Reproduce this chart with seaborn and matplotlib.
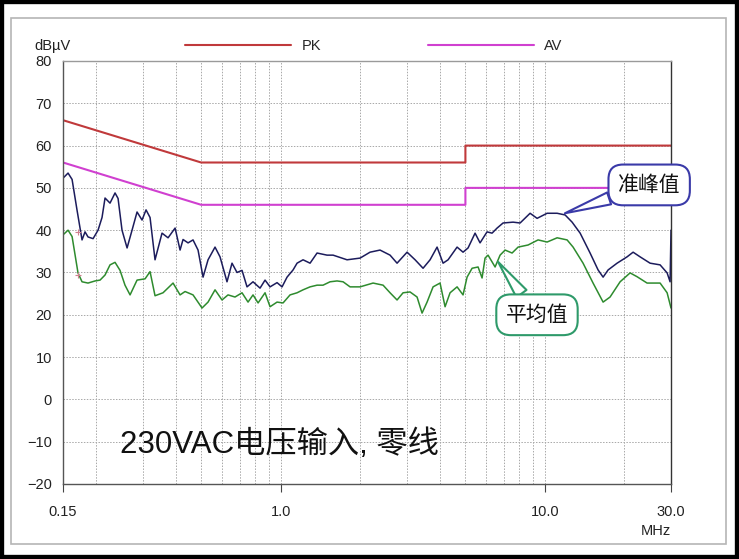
import numpy as np
import seaborn as sns
from matplotlib import pyplot as plt, patches, ticker

# limit lines (EN55022 class B)
pk_freq = [0.15, 0.5, 5.0, 5.0, 30.0]
pk_level = [66, 56, 56, 60, 60]
av_lim_freq = [0.15, 0.5, 5.0, 5.0, 30.0]
av_lim_level = [56, 46, 46, 50, 50]

# quasi-peak trace (MHz, dBuV)
qp_freq = [0.150, 0.1567, 0.1623, 0.1694, 0.1770, 0.1817, 0.1865, 0.1949, 0.2035, 0.2107,
           0.2163, 0.2259, 0.2360, 0.2423, 0.2508, 0.2621, 0.2737, 0.2859, 0.2986, 0.3092,
           0.3202, 0.3344, 0.3554, 0.3746, 0.3983, 0.4159, 0.4269, 0.4459, 0.4657, 0.4865,
           0.5082, 0.5308, 0.5641, 0.5892, 0.6261, 0.6541, 0.6832, 0.7137, 0.7455, 0.7855,
           0.8350, 0.8723, 0.9112, 0.9685, 1.0116, 1.0566, 1.1135, 1.1529, 1.2147, 1.2912,
           1.3725, 1.4971, 1.5782, 1.7824, 1.9962, 2.178, 2.376, 2.593, 2.756, 3.007,
           3.225, 3.457, 3.675, 3.906, 4.116, 4.299, 4.650, 4.898, 5.117, 5.439,
           5.681, 6.037, 6.308, 6.590, 6.943, 7.575, 8.053, 8.785, 9.338, 10.19,
           11.12, 11.92, 12.67, 13.59, 14.82, 15.89, 16.60, 17.34, 18.75, 20.46,
           21.56, 22.91, 25.00, 27.28, 29.00, 29.76, 30.0]
qp_level = [52.3, 53.5, 52.0, 44.8, 37.7, 39.6, 38.4, 38.0, 40.0, 43.0,
            47.6, 46.4, 48.8, 47.5, 40.0, 35.8, 40.0, 44.3, 42.4, 44.8,
            43.0, 33.0, 39.3, 38.2, 40.5, 35.3, 37.8, 37.0, 37.7, 35.3,
            28.9, 33.0, 36.0, 33.7, 27.8, 32.2, 30.0, 30.5, 26.6, 27.8,
            26.3, 28.2, 26.6, 27.6, 26.6, 28.9, 30.6, 32.2, 33.0, 32.2,
            34.6, 34.1, 34.1, 33.0, 33.4, 34.8, 35.3, 34.1, 32.2, 34.8,
            33.0, 31.0, 33.0, 36.0, 32.2, 33.0, 36.0, 34.8, 35.8, 39.3,
            37.0, 39.6, 39.3, 40.5, 41.7, 41.9, 41.7, 44.0, 42.8, 44.0,
            44.0, 43.6, 41.9, 39.3, 34.6, 30.6, 28.9, 30.6, 32.2, 33.7,
            34.8, 33.7, 32.2, 31.8, 29.9, 27.8, 40.0]

# average trace (MHz, dBuV)
av_freq = [0.150, 0.1567, 0.1623, 0.1709, 0.1770, 0.1865, 0.1983, 0.2071, 0.2163, 0.2259,
           0.2360, 0.2465, 0.2574, 0.2690, 0.2859, 0.3066, 0.3202, 0.3344, 0.3585, 0.3913,
           0.4159, 0.4344, 0.4657, 0.5037, 0.5308, 0.5641, 0.5994, 0.6317, 0.6714, 0.7137,
           0.7521, 0.7855, 0.8209, 0.8723, 0.9112, 0.9685, 1.0205, 1.0846, 1.1529, 1.2147,
           1.2912, 1.3725, 1.4458, 1.5371, 1.6335, 1.7219, 1.8297, 1.9962, 2.236, 2.440,
           2.593, 2.756, 2.904, 3.086, 3.281, 3.427, 3.580, 3.772, 4.009, 4.188,
           4.374, 4.650, 4.898, 5.073, 5.300, 5.584, 5.781, 5.934, 6.091, 6.476,
           6.764, 7.066, 7.509, 7.913, 8.635, 9.419, 10.19, 11.12, 12.13, 12.78,
           13.94, 15.21, 16.60, 17.64, 19.25, 21.00, 22.32, 24.35, 27.28, 29.00, 30.0]
av_level = [38.9, 40.0, 38.5, 29.9, 27.8, 27.5, 28.0, 28.2, 29.4, 31.8,
            32.4, 30.5, 27.0, 24.7, 28.2, 28.5, 30.2, 24.5, 25.2, 27.5,
            24.7, 25.5, 24.7, 21.6, 23.0, 25.9, 23.5, 24.7, 24.2, 25.2,
            23.0, 24.7, 22.8, 25.2, 21.9, 23.0, 22.8, 24.7, 25.2, 25.9,
            26.6, 27.0, 27.0, 27.8, 28.0, 27.8, 26.6, 26.6, 27.5, 27.0,
            25.2, 23.5, 25.2, 25.4, 24.2, 20.4, 23.0, 26.6, 27.5, 21.9,
            25.2, 26.6, 24.7, 28.9, 31.0, 31.3, 28.7, 33.4, 34.1, 31.3,
            34.1, 35.3, 34.6, 36.0, 36.5, 37.7, 37.2, 38.2, 37.7, 36.0,
            32.2, 27.5, 23.0, 24.2, 27.8, 29.9, 29.0, 27.5, 27.5, 25.2, 21.6]

xtick_vals = [0.15, 1.0, 10.0, 30.0]
xtick_labels = ['0.15', '1.0', '10.0', '30.0']
xgrid_minor = [0.2, 0.3, 0.4, 0.5, 0.6, 0.7, 0.8, 0.9, 2, 3, 4, 5, 6, 7, 8, 9, 20]
ytick_vals = list(range(-20, 81, 10))

sns.set_style('white')
plt.rcParams['font.family'] = ['Liberation Sans', 'Noto Sans CJK SC', 'DejaVu Sans']

fig = plt.figure(figsize=(7.39, 5.59), dpi=100)
ax = fig.add_axes([0.0853, 0.1342, 0.8227, 0.7567])

pk_line, = ax.plot(pk_freq, pk_level, color='#c0393b', lw=1.5, label='PK')
av_line, = ax.plot(av_lim_freq, av_lim_level, color='#d040d0', lw=1.5, label='AV')
sns.lineplot(x=qp_freq, y=qp_level, ax=ax, color='#1c1c5c', lw=1.1,
             estimator=None, sort=False)
sns.lineplot(x=av_freq, y=av_level, ax=ax, color='#2e8b2e', lw=1.1,
             estimator=None, sort=False)
ax.plot([0.171, 0.171], [39.5, 29.4], ls='none', marker='+', ms=5,
        color='#d08090', mew=0.8)

ax.set_xscale('log')
ax.set_xlim(0.15, 30)
ax.set_ylim(-20, 80)
ax.xaxis.set_major_locator(ticker.FixedLocator(xtick_vals))
ax.xaxis.set_major_formatter(ticker.FixedFormatter(xtick_labels))
ax.xaxis.set_minor_locator(ticker.FixedLocator(xgrid_minor))
ax.xaxis.set_minor_formatter(ticker.NullFormatter())
ax.set_yticks(ytick_vals)

ax.tick_params(axis='x', which='major', direction='out', length=6, width=0.8,
               color='#444444', pad=9, labelsize=10.5, labelcolor='#222222',
               bottom=True)
ax.tick_params(axis='x', which='minor', length=0)
ax.tick_params(axis='y', length=0, pad=8, labelsize=10.5, labelcolor='#222222')

grid_kw = dict(color='#a8a8a8', linestyle=(0, (1.5, 1.5)), lw=0.7)
ax.grid(True, axis='x', which='both', **grid_kw)
ax.grid(True, axis='y', which='major', **grid_kw)

for side, col in [('left', '#555555'), ('bottom', '#555555'),
                  ('top', '#9a9a9a'), ('right', '#333333')]:
    ax.spines[side].set_visible(True)
    ax.spines[side].set_color(col)
    ax.spines[side].set_linewidth(1.0)

ax.set_xlabel('MHz', loc='right', fontsize=10.5, labelpad=4, color='#222222')
ax.set_ylabel('')

fig.text(0.047, 0.918, 'dBµV', fontsize=10.5, va='center', ha='left',
         color='#222222')
ax.legend(handles=[pk_line, av_line], loc='center left',
          bbox_to_anchor=(0.2503, 0.918), bbox_transform=fig.transFigure,
          ncol=2, frameon=False, fontsize=10.5, handlelength=7.3,
          handletextpad=0.7, columnspacing=7.3, borderpad=0, borderaxespad=0)

ax.annotate('准峰值', xy=(11.9, 44.0), xytext=(24.8, 50.7),
            ha='center', va='center', fontsize=15, color='#111111',
            family=['Noto Sans CJK SC'],
            bbox=dict(boxstyle='round,pad=0.45,rounding_size=0.7',
                      fc='white', ec='#3a3aa8', lw=1.5),
            arrowprops=dict(arrowstyle='wedge,tail_width=0.6,shrink_factor=0.5',
                            fc='white', ec='#3a3aa8', lw=1.5,
                            shrinkA=0, shrinkB=0),
            zorder=6, annotation_clip=False)
ax.annotate('平均值', xy=(6.65, 32.5), xytext=(9.33, 20.0),
            ha='center', va='center', fontsize=15, color='#111111',
            family=['Noto Sans CJK SC'],
            bbox=dict(boxstyle='round,pad=0.45,rounding_size=0.7',
                      fc='white', ec='#2e9a6a', lw=1.5),
            arrowprops=dict(arrowstyle='wedge,tail_width=0.6,shrink_factor=0.5',
                            fc='white', ec='#2e9a6a', lw=1.5,
                            shrinkA=0, shrinkB=0),
            zorder=6, annotation_clip=False)

ax.text(0.247, -10.8, '230VAC电压输入, 零线', fontsize=22.5, va='center',
        ha='left', color='#111111',
        family=['Liberation Sans', 'Noto Sans CJK SC'])

# grey inner panel and black outer frame
fig.patches.append(patches.Rectangle((11 / 739, 15 / 559), 715 / 739, 526 / 559,
                                     transform=fig.transFigure, fill=False,
                                     ec='#b5b5b5', lw=1.2))
fig.patches.append(patches.Rectangle((0, 0), 1, 1, transform=fig.transFigure,
                                     fill=False, ec='black', lw=6))

fig.savefig('out.png', dpi=100)
